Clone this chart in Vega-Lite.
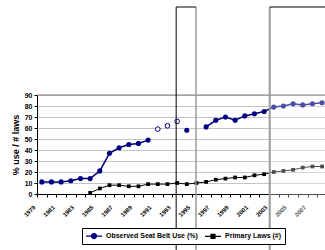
{
  "$schema": "https://vega.github.io/schema/vega-lite/v6.json",
  "width": 288,
  "height": 99,
  "autosize": {"type": "none"},
  "padding": {"left": 37, "top": 95, "right": 0, "bottom": 56},
  "background": "white",
  "config": {
    "view": {"stroke": null},
    "font": "Liberation Sans",
    "axisX": {
      "labelColor": "black", "labelFlush": false, "labelBound": false,
      "tickColor": "black", "tickSize": 3, "domainColor": "black", "grid": false
    },
    "axisY": {
      "values": [0, 10, 20, 30, 40, 50, 60, 70, 80, 90],
      "tickCount": 10,
      "labelOverlap": false,
      "labelFontSize": 7, "labelFontWeight": "bold", "labelColor": "black", "labelPadding": 2,
      "tickColor": "black", "tickSize": 3, "domainColor": "black",
      "grid": true, "gridColor": "#c4c4c4",
      "titleFontSize": 9, "titleFontWeight": "bold", "titleColor": "black", "titlePadding": 4
    }
  },
  "data": {"values": [
    {"year": 1979, "series": "Observed Seat Belt Use (%)", "value": 11, "seg": "A", "marker": "filled"},
    {"year": 1980, "series": "Observed Seat Belt Use (%)", "value": 11, "seg": "A", "marker": "filled"},
    {"year": 1981, "series": "Observed Seat Belt Use (%)", "value": 11, "seg": "A", "marker": "filled"},
    {"year": 1982, "series": "Observed Seat Belt Use (%)", "value": 12, "seg": "A", "marker": "filled"},
    {"year": 1983, "series": "Observed Seat Belt Use (%)", "value": 14, "seg": "A", "marker": "filled"},
    {"year": 1984, "series": "Observed Seat Belt Use (%)", "value": 14, "seg": "A", "marker": "filled"},
    {"year": 1985, "series": "Observed Seat Belt Use (%)", "value": 21, "seg": "A", "marker": "filled"},
    {"year": 1986, "series": "Observed Seat Belt Use (%)", "value": 37, "seg": "A", "marker": "filled"},
    {"year": 1987, "series": "Observed Seat Belt Use (%)", "value": 42, "seg": "A", "marker": "filled"},
    {"year": 1988, "series": "Observed Seat Belt Use (%)", "value": 45, "seg": "A", "marker": "filled"},
    {"year": 1989, "series": "Observed Seat Belt Use (%)", "value": 46, "seg": "A", "marker": "filled"},
    {"year": 1990, "series": "Observed Seat Belt Use (%)", "value": 49, "seg": "A", "marker": "filled"},
    {"year": 1991, "series": "Observed Seat Belt Use (%)", "value": 59, "seg": "none", "marker": "open"},
    {"year": 1992, "series": "Observed Seat Belt Use (%)", "value": 62, "seg": "none", "marker": "open"},
    {"year": 1993, "series": "Observed Seat Belt Use (%)", "value": 66, "seg": "none", "marker": "open"},
    {"year": 1994, "series": "Observed Seat Belt Use (%)", "value": 58, "seg": "none", "marker": "filled"},
    {"year": 1996, "series": "Observed Seat Belt Use (%)", "value": 61, "seg": "D", "marker": "filled"},
    {"year": 1997, "series": "Observed Seat Belt Use (%)", "value": 67, "seg": "D", "marker": "filled"},
    {"year": 1998, "series": "Observed Seat Belt Use (%)", "value": 70, "seg": "D", "marker": "filled"},
    {"year": 1999, "series": "Observed Seat Belt Use (%)", "value": 67, "seg": "D", "marker": "filled"},
    {"year": 2000, "series": "Observed Seat Belt Use (%)", "value": 71, "seg": "D", "marker": "filled"},
    {"year": 2001, "series": "Observed Seat Belt Use (%)", "value": 73, "seg": "D", "marker": "filled"},
    {"year": 2002, "series": "Observed Seat Belt Use (%)", "value": 75, "seg": "D", "marker": "filled"},
    {"year": 2003, "series": "Observed Seat Belt Use (%)", "value": 79, "seg": "D", "marker": "filled"},
    {"year": 2004, "series": "Observed Seat Belt Use (%)", "value": 80, "seg": "D", "marker": "filled"},
    {"year": 2005, "series": "Observed Seat Belt Use (%)", "value": 82, "seg": "D", "marker": "filled"},
    {"year": 2006, "series": "Observed Seat Belt Use (%)", "value": 81, "seg": "D", "marker": "filled"},
    {"year": 2007, "series": "Observed Seat Belt Use (%)", "value": 82, "seg": "D", "marker": "filled"},
    {"year": 2008, "series": "Observed Seat Belt Use (%)", "value": 83, "seg": "D", "marker": "filled"},
    {"year": 1984, "series": "Primary Laws (#)", "value": 1, "seg": "L", "marker": "square"},
    {"year": 1985, "series": "Primary Laws (#)", "value": 5, "seg": "L", "marker": "square"},
    {"year": 1986, "series": "Primary Laws (#)", "value": 8, "seg": "L", "marker": "square"},
    {"year": 1987, "series": "Primary Laws (#)", "value": 8, "seg": "L", "marker": "square"},
    {"year": 1988, "series": "Primary Laws (#)", "value": 7, "seg": "L", "marker": "square"},
    {"year": 1989, "series": "Primary Laws (#)", "value": 7, "seg": "L", "marker": "square"},
    {"year": 1990, "series": "Primary Laws (#)", "value": 9, "seg": "L", "marker": "square"},
    {"year": 1991, "series": "Primary Laws (#)", "value": 9, "seg": "L", "marker": "square"},
    {"year": 1992, "series": "Primary Laws (#)", "value": 9, "seg": "L", "marker": "square"},
    {"year": 1993, "series": "Primary Laws (#)", "value": 10, "seg": "L", "marker": "square"},
    {"year": 1994, "series": "Primary Laws (#)", "value": 9, "seg": "L", "marker": "square"},
    {"year": 1995, "series": "Primary Laws (#)", "value": 10, "seg": "L", "marker": "square"},
    {"year": 1996, "series": "Primary Laws (#)", "value": 11, "seg": "L", "marker": "square"},
    {"year": 1997, "series": "Primary Laws (#)", "value": 13, "seg": "L", "marker": "square"},
    {"year": 1998, "series": "Primary Laws (#)", "value": 14, "seg": "L", "marker": "square"},
    {"year": 1999, "series": "Primary Laws (#)", "value": 15, "seg": "L", "marker": "square"},
    {"year": 2000, "series": "Primary Laws (#)", "value": 15, "seg": "L", "marker": "square"},
    {"year": 2001, "series": "Primary Laws (#)", "value": 17, "seg": "L", "marker": "square"},
    {"year": 2002, "series": "Primary Laws (#)", "value": 18, "seg": "L", "marker": "square"},
    {"year": 2003, "series": "Primary Laws (#)", "value": 20, "seg": "L", "marker": "square"},
    {"year": 2004, "series": "Primary Laws (#)", "value": 21, "seg": "L", "marker": "square"},
    {"year": 2005, "series": "Primary Laws (#)", "value": 22, "seg": "L", "marker": "square"},
    {"year": 2006, "series": "Primary Laws (#)", "value": 24, "seg": "L", "marker": "square"},
    {"year": 2007, "series": "Primary Laws (#)", "value": 25, "seg": "L", "marker": "square"},
    {"year": 2008, "series": "Primary Laws (#)", "value": 25, "seg": "L", "marker": "square"}
  ]},
  "layer": [
    {
      "transform": [{"filter": "datum.seg !== 'none'"}],
      "mark": {"type": "line"},
      "encoding": {
        "x": {"field": "year", "type": "quantitative", "scale": {"domain": [1978.5, 2008.3], "nice": false, "zero": false},
          "axis": {"title": null, "values": [1978.5, 1979.5, 1980.5, 1981.5, 1982.5, 1983.5, 1984.5, 1985.5, 1986.5, 1987.5, 1988.5, 1989.5, 1990.5, 1991.5, 1992.5, 1993.5, 1994.5, 1995.5, 1996.5, 1997.5, 1998.5, 1999.5, 2000.5, 2001.5, 2002.5, 2003.5, 2004.5, 2005.5, 2006.5, 2007.5], "labelExpr": "(datum.value - 1978.5) % 2 === 0 ? format(datum.value + 0.5, 'd') : ''", "labelAngle": -45, "labelAlign": "right", "labelBaseline": "middle", "labelOffset": -3, "labelPadding": 9, "labelFontSize": 6, "labelFontWeight": "bold", "labelOverlap": false}},
        "y": {"field": "value", "type": "quantitative", "scale": {"domain": [0, 90], "nice": false}, "axis": {"title": "% use / # laws"}},
        "detail": {"field": "seg", "type": "nominal"},
        "strokeWidth": {"condition": {"test": "datum.series === 'Primary Laws (#)'", "value": 1}, "value": 1.5},
        "color": {
          "field": "series", "type": "nominal",
          "scale": {"domain": ["Observed Seat Belt Use (%)", "Primary Laws (#)"], "range": ["#000080", "#000000"]},
          "legend": {
            "orient": "none", "legendX": 45, "legendY": 133, "direction": "horizontal", "title": null,
            "strokeColor": "black", "fillColor": "white", "padding": 3,
            "labelFont": "Liberation Sans", "labelFontSize": 7, "labelFontWeight": "bold", "labelColor": "black",
            "symbolSize": 64, "symbolStrokeWidth": 1.2, "labelOffset": 11, "columnPadding": 4, "labelLimit": 200,
            "encode": {"symbols": {"update": {
              "shape": {"signal": "datum.value === 'Primary Laws (#)' ? 'M-1,0H3M0.5,-0.5H1.5V0.5H0.5Z' : 'M-1,0H3M0.375,0A0.625,0.625,0,1,1,1.625,0A0.625,0.625,0,1,1,0.375,0Z'"},
              "fill": {"signal": "datum.value === 'Primary Laws (#)' ? '#000000' : '#000080'"},
              "stroke": {"signal": "datum.value === 'Primary Laws (#)' ? '#000000' : '#000080'"}
            }}}
          }
        }
      }
    },
    {
      "transform": [{"filter": "datum.marker === 'filled'"}],
      "mark": {"type": "point", "shape": "circle", "filled": true, "size": 26, "color": "#000080", "opacity": 1},
      "encoding": {
        "x": {"field": "year", "type": "quantitative", "axis": {"title": null, "values": [1978.5, 1979.5, 1980.5, 1981.5, 1982.5, 1983.5, 1984.5, 1985.5, 1986.5, 1987.5, 1988.5, 1989.5, 1990.5, 1991.5, 1992.5, 1993.5, 1994.5, 1995.5, 1996.5, 1997.5, 1998.5, 1999.5, 2000.5, 2001.5, 2002.5, 2003.5, 2004.5, 2005.5, 2006.5, 2007.5], "labelExpr": "(datum.value - 1978.5) % 2 === 0 ? format(datum.value + 0.5, 'd') : ''", "labelAngle": -45, "labelAlign": "right", "labelBaseline": "middle", "labelOffset": -3, "labelPadding": 9, "labelFontSize": 6, "labelFontWeight": "bold", "labelOverlap": false}},
        "y": {"field": "value", "type": "quantitative", "axis": {"title": "% use / # laws"}}
      }
    },
    {
      "transform": [{"filter": "datum.marker === 'open'"}],
      "mark": {"type": "point", "shape": "circle", "filled": false, "fill": "white", "size": 22, "stroke": "#000080", "strokeWidth": 1, "opacity": 1},
      "encoding": {
        "x": {"field": "year", "type": "quantitative", "axis": {"title": null, "values": [1978.5, 1979.5, 1980.5, 1981.5, 1982.5, 1983.5, 1984.5, 1985.5, 1986.5, 1987.5, 1988.5, 1989.5, 1990.5, 1991.5, 1992.5, 1993.5, 1994.5, 1995.5, 1996.5, 1997.5, 1998.5, 1999.5, 2000.5, 2001.5, 2002.5, 2003.5, 2004.5, 2005.5, 2006.5, 2007.5], "labelExpr": "(datum.value - 1978.5) % 2 === 0 ? format(datum.value + 0.5, 'd') : ''", "labelAngle": -45, "labelAlign": "right", "labelBaseline": "middle", "labelOffset": -3, "labelPadding": 9, "labelFontSize": 6, "labelFontWeight": "bold", "labelOverlap": false}},
        "y": {"field": "value", "type": "quantitative", "axis": {"title": "% use / # laws"}}
      }
    },
    {
      "transform": [{"filter": "datum.marker === 'square'"}],
      "mark": {"type": "square", "size": 14, "color": "black", "opacity": 1},
      "encoding": {
        "x": {"field": "year", "type": "quantitative", "axis": {"title": null, "values": [1978.5, 1979.5, 1980.5, 1981.5, 1982.5, 1983.5, 1984.5, 1985.5, 1986.5, 1987.5, 1988.5, 1989.5, 1990.5, 1991.5, 1992.5, 1993.5, 1994.5, 1995.5, 1996.5, 1997.5, 1998.5, 1999.5, 2000.5, 2001.5, 2002.5, 2003.5, 2004.5, 2005.5, 2006.5, 2007.5], "labelExpr": "(datum.value - 1978.5) % 2 === 0 ? format(datum.value + 0.5, 'd') : ''", "labelAngle": -45, "labelAlign": "right", "labelBaseline": "middle", "labelOffset": -3, "labelPadding": 9, "labelFontSize": 6, "labelFontWeight": "bold", "labelOverlap": false}},
        "y": {"field": "value", "type": "quantitative", "axis": {"title": "% use / # laws"}}
      }
    },
    {
      "data": {"values": [{"k": "overlay"}]},
      "mark": {"type": "rect", "color": "white", "opacity": 0.3},
      "encoding": {
        "x": {"datum": 2002.58, "type": "quantitative", "axis": {"title": null, "values": [1978.5, 1979.5, 1980.5, 1981.5, 1982.5, 1983.5, 1984.5, 1985.5, 1986.5, 1987.5, 1988.5, 1989.5, 1990.5, 1991.5, 1992.5, 1993.5, 1994.5, 1995.5, 1996.5, 1997.5, 1998.5, 1999.5, 2000.5, 2001.5, 2002.5, 2003.5, 2004.5, 2005.5, 2006.5, 2007.5], "labelExpr": "(datum.value - 1978.5) % 2 === 0 ? format(datum.value + 0.5, 'd') : ''", "labelAngle": -45, "labelAlign": "right", "labelBaseline": "middle", "labelOffset": -3, "labelPadding": 9, "labelFontSize": 6, "labelFontWeight": "bold", "labelOverlap": false}},
        "x2": {"datum": 2009},
        "y": {"datum": -60, "type": "quantitative", "axis": {"title": "% use / # laws"}}, "y2": {"datum": 170}
      }
    },
    {
      "data": {"values": [{"k": "top"}]},
      "mark": {"type": "rule", "color": "#808080", "strokeWidth": 1},
      "encoding": {
        "x": {"datum": 1978.5, "type": "quantitative", "axis": {"title": null, "values": [1978.5, 1979.5, 1980.5, 1981.5, 1982.5, 1983.5, 1984.5, 1985.5, 1986.5, 1987.5, 1988.5, 1989.5, 1990.5, 1991.5, 1992.5, 1993.5, 1994.5, 1995.5, 1996.5, 1997.5, 1998.5, 1999.5, 2000.5, 2001.5, 2002.5, 2003.5, 2004.5, 2005.5, 2006.5, 2007.5], "labelExpr": "(datum.value - 1978.5) % 2 === 0 ? format(datum.value + 0.5, 'd') : ''", "labelAngle": -45, "labelAlign": "right", "labelBaseline": "middle", "labelOffset": -3, "labelPadding": 9, "labelFontSize": 6, "labelFontWeight": "bold", "labelOverlap": false}},
        "x2": {"datum": 2009},
        "y": {"datum": 90, "type": "quantitative", "axis": {"title": "% use / # laws"}}
      }
    },
    {
      "data": {"values": [{"k": "v1"}]},
      "mark": {"type": "rule", "color": "#000000", "strokeWidth": 1},
      "encoding": {
        "x": {"datum": 1992.9, "type": "quantitative", "axis": {"title": null, "values": [1978.5, 1979.5, 1980.5, 1981.5, 1982.5, 1983.5, 1984.5, 1985.5, 1986.5, 1987.5, 1988.5, 1989.5, 1990.5, 1991.5, 1992.5, 1993.5, 1994.5, 1995.5, 1996.5, 1997.5, 1998.5, 1999.5, 2000.5, 2001.5, 2002.5, 2003.5, 2004.5, 2005.5, 2006.5, 2007.5], "labelExpr": "(datum.value - 1978.5) % 2 === 0 ? format(datum.value + 0.5, 'd') : ''", "labelAngle": -45, "labelAlign": "right", "labelBaseline": "middle", "labelOffset": -3, "labelPadding": 9, "labelFontSize": 6, "labelFontWeight": "bold", "labelOverlap": false}},
        "y": {"datum": -60, "type": "quantitative", "axis": {"title": "% use / # laws"}}, "y2": {"datum": 170}
      }
    },
    {
      "data": {"values": [{"k": "v2"}]},
      "mark": {"type": "rule", "color": "#999999", "strokeWidth": 1.5},
      "encoding": {
        "x": {"datum": 1994.95, "type": "quantitative", "axis": {"title": null, "values": [1978.5, 1979.5, 1980.5, 1981.5, 1982.5, 1983.5, 1984.5, 1985.5, 1986.5, 1987.5, 1988.5, 1989.5, 1990.5, 1991.5, 1992.5, 1993.5, 1994.5, 1995.5, 1996.5, 1997.5, 1998.5, 1999.5, 2000.5, 2001.5, 2002.5, 2003.5, 2004.5, 2005.5, 2006.5, 2007.5], "labelExpr": "(datum.value - 1978.5) % 2 === 0 ? format(datum.value + 0.5, 'd') : ''", "labelAngle": -45, "labelAlign": "right", "labelBaseline": "middle", "labelOffset": -3, "labelPadding": 9, "labelFontSize": 6, "labelFontWeight": "bold", "labelOverlap": false}},
        "y": {"datum": -60, "type": "quantitative", "axis": {"title": "% use / # laws"}}, "y2": {"datum": 170}
      }
    },
    {
      "data": {"values": [{"k": "v3"}]},
      "mark": {"type": "rule", "color": "#999999", "strokeWidth": 2},
      "encoding": {
        "x": {"datum": 2002.58, "type": "quantitative", "axis": {"title": null, "values": [1978.5, 1979.5, 1980.5, 1981.5, 1982.5, 1983.5, 1984.5, 1985.5, 1986.5, 1987.5, 1988.5, 1989.5, 1990.5, 1991.5, 1992.5, 1993.5, 1994.5, 1995.5, 1996.5, 1997.5, 1998.5, 1999.5, 2000.5, 2001.5, 2002.5, 2003.5, 2004.5, 2005.5, 2006.5, 2007.5], "labelExpr": "(datum.value - 1978.5) % 2 === 0 ? format(datum.value + 0.5, 'd') : ''", "labelAngle": -45, "labelAlign": "right", "labelBaseline": "middle", "labelOffset": -3, "labelPadding": 9, "labelFontSize": 6, "labelFontWeight": "bold", "labelOverlap": false}},
        "y": {"datum": -60, "type": "quantitative", "axis": {"title": "% use / # laws"}}, "y2": {"datum": 170}
      }
    },
    {
      "data": {"values": [{"k": "h1"}]},
      "mark": {"type": "rule", "color": "#000000", "strokeWidth": 1},
      "encoding": {
        "x": {"datum": 1992.9, "type": "quantitative", "axis": {"title": null, "values": [1978.5, 1979.5, 1980.5, 1981.5, 1982.5, 1983.5, 1984.5, 1985.5, 1986.5, 1987.5, 1988.5, 1989.5, 1990.5, 1991.5, 1992.5, 1993.5, 1994.5, 1995.5, 1996.5, 1997.5, 1998.5, 1999.5, 2000.5, 2001.5, 2002.5, 2003.5, 2004.5, 2005.5, 2006.5, 2007.5], "labelExpr": "(datum.value - 1978.5) % 2 === 0 ? format(datum.value + 0.5, 'd') : ''", "labelAngle": -45, "labelAlign": "right", "labelBaseline": "middle", "labelOffset": -3, "labelPadding": 9, "labelFontSize": 6, "labelFontWeight": "bold", "labelOverlap": false}},
        "x2": {"datum": 1994.95},
        "y": {"datum": 170, "type": "quantitative", "axis": {"title": "% use / # laws"}}
      }
    },
    {
      "data": {"values": [{"k": "h2"}]},
      "mark": {"type": "rule", "color": "#000000", "strokeWidth": 1},
      "encoding": {
        "x": {"datum": 2002.58, "type": "quantitative", "axis": {"title": null, "values": [1978.5, 1979.5, 1980.5, 1981.5, 1982.5, 1983.5, 1984.5, 1985.5, 1986.5, 1987.5, 1988.5, 1989.5, 1990.5, 1991.5, 1992.5, 1993.5, 1994.5, 1995.5, 1996.5, 1997.5, 1998.5, 1999.5, 2000.5, 2001.5, 2002.5, 2003.5, 2004.5, 2005.5, 2006.5, 2007.5], "labelExpr": "(datum.value - 1978.5) % 2 === 0 ? format(datum.value + 0.5, 'd') : ''", "labelAngle": -45, "labelAlign": "right", "labelBaseline": "middle", "labelOffset": -3, "labelPadding": 9, "labelFontSize": 6, "labelFontWeight": "bold", "labelOverlap": false}},
        "x2": {"datum": 2009},
        "y": {"datum": 170, "type": "quantitative", "axis": {"title": "% use / # laws"}}
      }
    }
  ]
}
